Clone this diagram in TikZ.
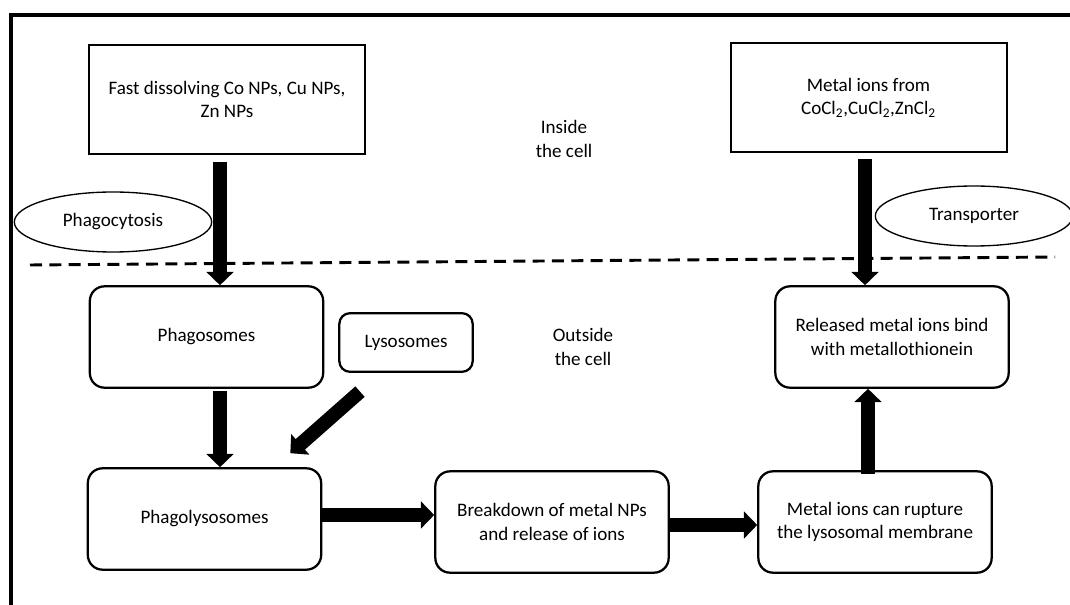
\documentclass[tikz,border=0pt]{standalone}
\usepackage{fontspec}
\setmainfont{Carlito}
\usetikzlibrary{
  arrows.meta,
  shapes.geometric,
  positioning
}
\newcommand{\cellfont}{\fontsize{14.3}{17.4}\selectfont}
\tikzset{
  cellnode/.style={
    draw, align=center, font=\cellfont
  },
  srcbox/.style={cellnode, line width=1.5pt, minimum width=207pt, minimum height=82pt},
  stagebox/.style={cellnode, line width=1.7pt, rounded corners=11pt, minimum width=175pt, minimum height=76pt},
  smallstage/.style={stagebox, minimum width=100pt, minimum height=44pt, rounded corners=8pt},
  routeoval/.style={cellnode, ellipse, line width=1pt, minimum width=148pt, minimum height=45pt},
  zonelabel/.style={font=\cellfont, align=center},
  fatarrow/.style={line width=10.5pt, -{Triangle[width=20pt,length=10pt]}},
  membrane/.style={line width=2.2pt, dash pattern=on 9pt off 5.5pt},
  cellwall/.style={line width=2.3pt}
}

\begin{document}
\begin{tikzpicture}[x=0.75pt, y=-0.75pt]
  \useasboundingbox (0,0) rectangle (1070,605);
  \draw[cellwall] (11,640) -- (11,15) -- (1090,15);
  \draw[membrane] (30,265) -- (1055,257);

  \node[srcbox] (fastnp) at (227,99.5) {Fast dissolving Co NPs, Cu NPs,\\Zn NPs};
  \node[srcbox] (ionsrc) at (868.5,97.5) {Metal ions from\\CoCl\textsubscript{2},CuCl\textsubscript{2},ZnCl\textsubscript{2}};
  \node[zonelabel] (inside) at (564,139) {Inside\\the cell};
  \node[zonelabel] (outside) at (583,347) {Outside\\the cell};
  \node[routeoval] (phagocyt) at (113,222) {Phagocytosis};
  \node[routeoval] (transp) at (974,216) {Transporter};

  \node[stagebox] (phago) at (206.5,337) {Phagosomes};
  \node[smallstage] (lyso) at (406,342.5) {Lysosomes};
  \node[stagebox] (phagolyso) at (204.5,519) {Phagolysosomes};
  \node[stagebox] (breakdown) at (552,522) {Breakdown of metal NPs\\and release of ions};
  \node[stagebox] (rupture) at (875,522) {Metal ions can rupture\\the lysosomal membrane};
  \node[stagebox] (released) at (892,337) {Released metal ions bind\\with metallothionein};

  \coordinate (lanel) at (220,0);
  \coordinate (laner) at (865,0);
  \coordinate (laneu) at (868,0);
  \coordinate (rowa) at (0,515);
  \coordinate (rowb) at (0,525);

  \draw[fatarrow, shorten <=5pt] (fastnp.south -| lanel) -- (phago.north -| lanel);
  \draw[fatarrow, shorten <=2pt] (phago.south -| lanel) -- (phagolyso.north -| lanel);
  \draw[fatarrow] ([xshift=-34.5pt,yshift=-14pt]lyso.south) -- ([xshift=-24pt,yshift=10.5pt]phagolyso.north east);
  \draw[fatarrow] (phagolyso.east |- rowa) -- (breakdown.west |- rowa);
  \draw[fatarrow] (breakdown.east |- rowb) -- (rupture.west |- rowb);
  \draw[fatarrow, shorten <=-3pt] (rupture.north -| laneu) -- (released.south -| laneu);
  \draw[fatarrow, shorten <=4.5pt] (ionsrc.south -| laner) -- (released.north -| laner);
\end{tikzpicture}
\end{document}
